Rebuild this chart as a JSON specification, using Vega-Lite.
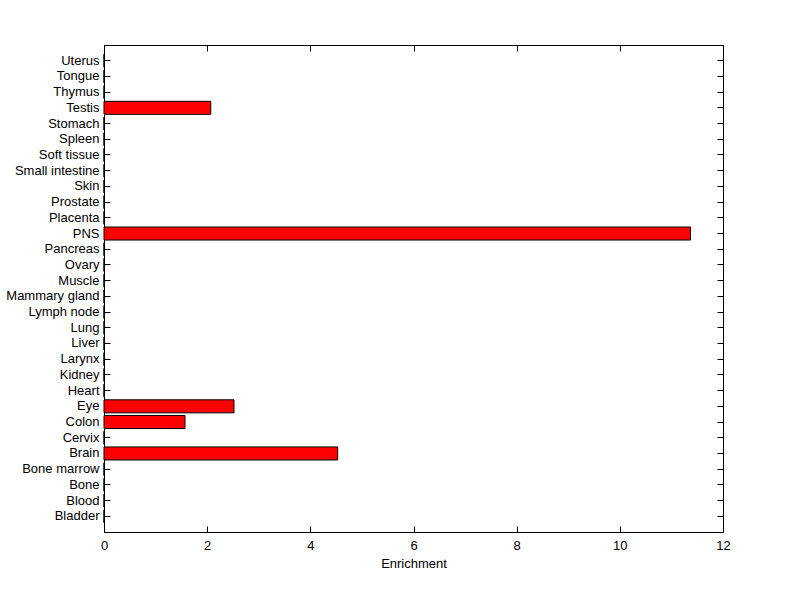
{
  "$schema": "https://vega.github.io/schema/vega-lite/v6.json",
  "width": 619,
  "height": 487,
  "autosize": "none",
  "padding": {"left": 104, "top": 45, "right": 77, "bottom": 67},
  "background": "white",
  "config": {
    "font": "Liberation Sans",
    "view": {"stroke": "black", "strokeWidth": 1},
    "axis": {
      "domainColor": "black",
      "tickColor": "black",
      "labelColor": "black",
      "titleColor": "black",
      "labelFont": "Liberation Sans",
      "titleFont": "Liberation Sans",
      "labelFontSize": 13,
      "titleFontSize": 13,
      "titleFontWeight": "normal",
      "grid": false,
      "tickSize": -6,
      "domainWidth": 1,
      "tickWidth": 1
    }
  },
  "data": {
    "values": [
      {"tissue": "Uterus", "enrichment": 0},
      {"tissue": "Tongue", "enrichment": 0},
      {"tissue": "Thymus", "enrichment": 0},
      {"tissue": "Testis", "enrichment": 2.07},
      {"tissue": "Stomach", "enrichment": 0},
      {"tissue": "Spleen", "enrichment": 0},
      {"tissue": "Soft tissue", "enrichment": 0},
      {"tissue": "Small intestine", "enrichment": 0},
      {"tissue": "Skin", "enrichment": 0},
      {"tissue": "Prostate", "enrichment": 0},
      {"tissue": "Placenta", "enrichment": 0},
      {"tissue": "PNS", "enrichment": 11.37},
      {"tissue": "Pancreas", "enrichment": 0},
      {"tissue": "Ovary", "enrichment": 0},
      {"tissue": "Muscle", "enrichment": 0},
      {"tissue": "Mammary gland", "enrichment": 0},
      {"tissue": "Lymph node", "enrichment": 0},
      {"tissue": "Lung", "enrichment": 0},
      {"tissue": "Liver", "enrichment": 0},
      {"tissue": "Larynx", "enrichment": 0},
      {"tissue": "Kidney", "enrichment": 0},
      {"tissue": "Heart", "enrichment": 0},
      {"tissue": "Eye", "enrichment": 2.52},
      {"tissue": "Colon", "enrichment": 1.57},
      {"tissue": "Cervix", "enrichment": 0},
      {"tissue": "Brain", "enrichment": 4.53},
      {"tissue": "Bone marrow", "enrichment": 0},
      {"tissue": "Bone", "enrichment": 0},
      {"tissue": "Blood", "enrichment": 0},
      {"tissue": "Bladder", "enrichment": 0}
    ]
  },
  "layer": [
    {
      "mark": {"type": "bar", "color": "#ff0000", "stroke": "black", "strokeWidth": 1},
      "encoding": {
        "y": {
          "field": "tissue",
          "type": "nominal",
          "sort": null,
          "scale": {"paddingInner": 0.17, "paddingOuter": 0.585},
          "axis": {"title": null, "orient": "left", "labelPadding": 11}
        },
        "x": {
          "field": "enrichment",
          "type": "quantitative",
          "scale": {"domain": [0, 12], "nice": false},
          "axis": {"title": "Enrichment", "orient": "bottom", "values": [0, 2, 4, 6, 8, 10, 12], "format": "d", "labelFlush": false, "labelPadding": 13, "titlePadding": 5}
        }
      }
    },
    {
      "mark": {"type": "bar", "opacity": 0},
      "encoding": {
        "y": {
          "field": "tissue",
          "type": "nominal",
          "sort": null,
          "axis": {"title": null, "orient": "right", "labels": false}
        },
        "x": {
          "field": "enrichment",
          "type": "quantitative",
          "axis": {"title": null, "orient": "top", "labels": false, "values": [0, 2, 4, 6, 8, 10, 12]}
        }
      }
    }
  ],
  "resolve": {"axis": {"x": "independent", "y": "independent"}}
}
